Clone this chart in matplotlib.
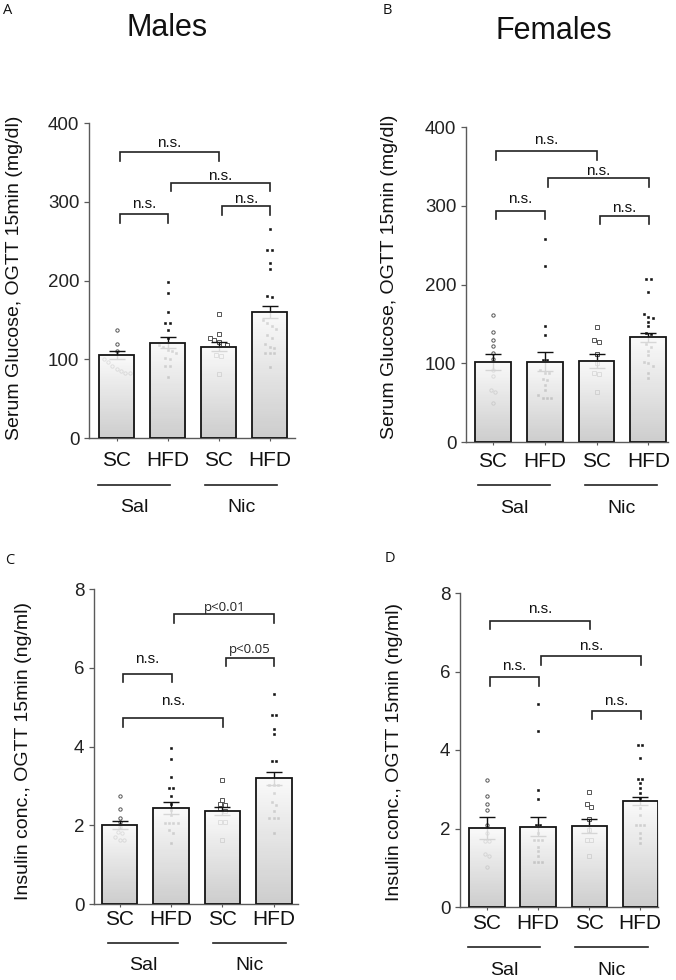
import numpy as np
import matplotlib
matplotlib.use('Agg')
import matplotlib.pyplot as plt
from matplotlib.colors import LinearSegmentedColormap

plt.rcParams['font.family'] = ['Liberation Sans', 'DejaVu Sans']

# ---------------- data ----------------
groups = ['SC', 'HFD', 'SC', 'HFD']
treatments = ['Sal', 'Nic']

# Panel A: males, glucose (mg/dl)
a_means = [105, 121, 116, 160]
a_sems = [5, 7, 6, 7]
a_sc_sal = [137, 120, 110, 100, 96, 92, 88, 85, 83, 83]
a_hfd_sal = [198, 184, 160, 146, 146, 137, 127, 118, 116, 112, 110, 108, 101, 100, 92, 92, 78]
a_sc_nic = [157, 132, 127, 124, 122, 120, 118, 106, 104, 81]
a_hfd_nic = [266, 239, 239, 222, 215, 180, 179, 150, 146, 142, 139, 131, 127, 120, 116, 114, 108, 108, 108, 90]

# Panel B: females, glucose (mg/dl)
b_means = [102, 102, 103, 133]
b_sems = [10, 12, 8.5, 6]
b_sc_sal = [161, 140, 130, 122, 113, 105, 92, 84, 66, 64, 50]
b_hfd_sal = [258, 223, 147, 136, 104, 104, 92, 88, 87, 80, 79, 73, 66, 60, 56, 56, 56]
b_sc_nic = [146, 130, 127, 112, 100, 87, 86, 64]
b_hfd_nic = [207, 207, 190, 163, 159, 158, 153, 147, 138, 137, 125, 121, 115, 110, 102, 100, 96, 87, 81]

# Panel C: males, insulin (ng/ml)
c_means = [2.01, 2.43, 2.36, 3.19]
c_sems = [0.10, 0.15, 0.11, 0.17]
c_sc_sal = [2.75, 2.41, 2.18, 2.07, 1.95, 1.82, 1.80, 1.69, 1.63, 1.63]
c_hfd_sal = [3.96, 3.68, 3.22, 2.94, 2.94, 2.75, 2.54, 2.40, 2.26, 2.05, 2.05, 2.05, 2.05, 1.88, 1.80, 1.56]
c_sc_nic = [3.15, 2.64, 2.54, 2.52, 2.43, 2.35, 2.09, 2.09, 1.63]
c_hfd_nic = [5.33, 4.81, 4.81, 4.44, 4.31, 3.62, 3.62, 3.03, 3.03, 3.03, 2.83, 2.60, 2.52, 2.35, 2.18, 2.18, 2.18, 1.80]

# Panel D: females, insulin (ng/ml)
d_means = [2.01, 2.05, 2.07, 2.69]
d_sems = [0.28, 0.24, 0.18, 0.10]
d_sc_sal = [3.24, 2.83, 2.63, 2.46, 2.09, 1.88, 1.67, 1.67, 1.36, 1.31, 1.02]
d_hfd_sal = [5.17, 4.48, 2.98, 2.75, 2.09, 2.09, 1.88, 1.71, 1.71, 1.71, 1.54, 1.42, 1.29, 1.14, 1.14, 1.14]
d_sc_nic = [2.92, 2.62, 2.56, 2.24, 1.97, 1.71, 1.71, 1.31]
d_hfd_nic = [4.14, 4.14, 3.79, 3.25, 3.25, 3.15, 3.03, 2.90, 2.77, 2.52, 2.35, 2.09, 2.09, 2.09, 1.88, 1.75, 1.63]

# significance brackets: (group i, group j, bracket height, text baseline, label)
a_brackets = [(0, 1, 284, 292, 'n.s.'), (0, 2, 363, 370, 'n.s.'),
              (1, 3, 324, 328, 'n.s.'), (2, 3, 294, 298, 'n.s.')]
b_brackets = [(0, 1, 293.6, 303, 'n.s.'), (0, 2, 369, 378, 'n.s.'),
              (1, 3, 335, 339, 'n.s.'), (2, 3, 287, 291.5, 'n.s.')]
c_brackets = [(0, 1, 5.85, 6.12, 'n.s.'), (0, 2, 4.72, 5.06, 'n.s.'),
              (1, 3, 7.36, 7.45, 'p<0.01'), (2, 3, 6.25, 6.37, 'p<0.05')]
d_brackets = [(0, 2, 7.29, 7.50, 'n.s.'), (0, 1, 5.85, 6.05, 'n.s.'),
              (1, 3, 6.39, 6.56, 'n.s.'), (2, 3, 5.00, 5.14, 'n.s.')]

glucose_ticks = [0, 100, 200, 300, 400]
insulin_ticks = [0, 2, 4, 6, 8]

# ---------------- style helpers ----------------
W, H = 676, 980
fig = plt.figure(figsize=(W / 100, H / 100), dpi=100)

cmap = LinearSegmentedColormap.from_list('bar', ['#c6c6c6', '#fafafa'])
AXC = '#5a5a5a'


def px_axes(x0, x1, y_bottom, y_top):
    return fig.add_axes([x0 / W, 1 - y_bottom / H, (x1 - x0) / W, (y_bottom - y_top) / H])


def swarm(vals, tol, dx):
    vals = np.asarray(vals, float)
    order = np.argsort(-vals, kind='stable')
    offs = np.zeros(len(vals))
    clusters, cur = [], [order[0]]
    for idx in order[1:]:
        if abs(vals[cur[-1]] - vals[idx]) < tol:
            cur.append(idx)
        else:
            clusters.append(cur)
            cur = [idx]
    clusters.append(cur)
    for c in clusters:
        n = len(c)
        for k, idx in enumerate(c):
            offs[idx] = (k - (n - 1) / 2) * dx
    return offs


def panel(ax, means, sems, pts, brackets, ymax, ticks, ylabel, xlim,
          label_pad, line_ext, line_y, grp_y, ylab_xy):
    x = np.arange(4)
    width = 0.69
    tol = ymax * 0.011
    styles = [dict(marker='o', mfc='none', mec='#555555', ms=2.4, mew=0.7),
              dict(marker='s', mfc='#111111', mec='#111111', ms=1.6, mew=0.4),
              dict(marker='s', mfc='none', mec='#555555', ms=2.4, mew=0.7),
              dict(marker='s', mfc='#111111', mec='#111111', ms=1.6, mew=0.4)]
    for i in range(4):
        v = np.asarray(pts[i], float)
        xo = x[i] + swarm(v, tol, 0.085)
        ax.plot(xo, v, ls='none', zorder=1, **styles[i])
    # error bars (under the translucent bars)
    ax.errorbar(x, means, yerr=sems, fmt='none', ecolor='#111111', elinewidth=1.0,
                capsize=5.5, capthick=1.0, zorder=1.5)
    bars = ax.bar(x, means, width=width, facecolor='none', edgecolor='#151515',
                  linewidth=1.3, zorder=3)
    grad = np.linspace(1, 0, 256).reshape(-1, 1)
    for b in bars:
        x0, y0 = b.get_x(), b.get_y()
        ax.imshow(grad, extent=[x0, x0 + b.get_width(), y0, y0 + b.get_height()],
                  origin='upper', aspect='auto', cmap=cmap, vmin=0, vmax=1,
                  alpha=0.87, zorder=2, interpolation='bilinear')
    # brackets
    leg = ymax * 0.027
    for (i, j, top, tb, lab) in brackets:
        xl, xr = x[i] + 0.06, x[j] + 0.01
        ax.plot([xl, xl, xr, xr], [top - leg, top, top, top - leg], color='#222222',
                lw=1.2, solid_joinstyle='miter', clip_on=False, zorder=4)
        if lab.startswith('p'):
            ax.text((xl + xr) / 2, tb, lab, ha='center', va='baseline', fontsize=9.5,
                    family=['Open Sans', 'DejaVu Sans'], color='#222222')
        else:
            ax.text((xl + xr) / 2, tb, lab, ha='center', va='baseline', fontsize=11,
                    color='#111111')
    ax.set_xlim(*xlim)
    ax.set_ylim(0, ymax)
    ax.set_aspect('auto')
    ax.set_yticks(ticks)
    ax.set_yticklabels([str(t) for t in ticks], fontsize=13.5, color='#222222')
    ax.set_xticks(x)
    ax.set_xticklabels(groups, fontsize=15, color='#111111')
    ax.tick_params(axis='y', length=3.5, width=0.9, color=AXC, pad=3.5)
    ax.tick_params(axis='x', length=2, width=0.8, color=AXC, pad=label_pad)
    for s in ['top', 'right']:
        ax.spines[s].set_visible(False)
    for s in ['left', 'bottom']:
        ax.spines[s].set_color(AXC)
        ax.spines[s].set_linewidth(1.0)
    ax.set_ylabel(ylabel, fontsize=14, color='#111111')
    ax.yaxis.set_label_coords(*ylab_xy)
    trans = ax.get_xaxis_transform()
    for k, (l0, l1) in enumerate(line_ext):
        ax.plot([l0, l1], [line_y, line_y], color='#222222', lw=1.2,
                transform=trans, clip_on=False)
        ax.text((l0 + l1) / 2, grp_y, treatments[k], transform=trans, ha='center',
                va='center', fontsize=14, color='#111111')


axA = px_axes(89, 295, 438, 123)
panel(axA, a_means, a_sems, [a_sc_sal, a_hfd_sal, a_sc_nic, a_hfd_nic], a_brackets,
      400, glucose_ticks, 'Serum Glucose, OGTT 15min (mg/dl)', (-0.54, 3.5),
      7.0, [(-0.36, 1.05), (1.74, 3.15)], -0.149, -0.222, (-0.32, 0.51))

axB = px_axes(466, 668, 442, 127)
panel(axB, b_means, b_sems, [b_sc_sal, b_hfd_sal, b_sc_nic, b_hfd_nic], b_brackets,
      400, glucose_ticks, 'Serum Glucose, OGTT 15min (mg/dl)', (-0.52, 3.38),
      5.0, [(-0.29, 1.10), (1.78, 3.17)], -0.137, -0.21, (-0.337, 0.525))

axC = px_axes(94, 298, 904, 589)
panel(axC, c_means, c_sems, [c_sc_sal, c_hfd_sal, c_sc_nic, c_hfd_nic], c_brackets,
      8, insulin_ticks, 'Insulin conc., OGTT 15min (ng/ml)', (-0.5, 3.47),
      2.0, [(-0.22, 1.14), (1.82, 3.24)], -0.123, -0.194, (-0.304, 0.486))

axD = px_axes(460, 658, 907, 593)
panel(axD, d_means, d_sems, [d_sc_sal, d_hfd_sal, d_sc_nic, d_hfd_nic], d_brackets,
      8, insulin_ticks, 'Insulin conc., OGTT 15min (ng/ml)', (-0.53, 3.35),
      3.0, [(-0.37, 1.04), (1.73, 3.15)], -0.126, -0.202, (-0.288, 0.495))

# titles and panel letters
fig.text(167 / W, 1 - 28 / H, 'Males', ha='center', va='center', fontsize=22, color='#111111')
fig.text(554 / W, 1 - 31 / H, 'Females', ha='center', va='center', fontsize=22, color='#111111')
for lab, (px, py) in {'A': (8, 11), 'B': (387, 11), 'C': (10, 560), 'D': (390, 558)}.items():
    fig.text(px / W, 1 - py / H, lab, ha='center', va='center', fontsize=10.5,
             family=['Open Sans', 'DejaVu Sans'], color='#111111')

fig.savefig('out.png', dpi=100)
